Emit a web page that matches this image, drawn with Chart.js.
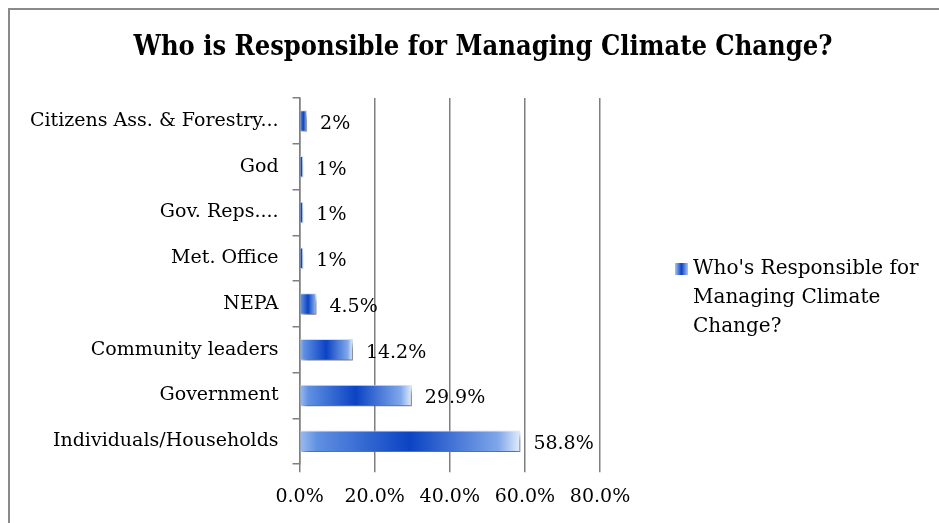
<!DOCTYPE html>
<html>
<head>
<meta charset="utf-8">
<script src="https://cdn.jsdelivr.net/npm/chart.js@4"></script>
<style>
  body { margin: 0; background: #fff; }
  #wrap { position: relative; width: 939px; height: 523px; overflow: hidden; }
  #frame { position: absolute; left: 8px; top: 8px; width: 1000px; height: 600px;
           border-left: 2px solid #8a8a8a; border-top: 2px solid #8a8a8a; }
  canvas { position: absolute; left: 0; top: 0; }
</style>
</head>
<body>
<div id="wrap">
  <div id="frame"></div>
  <canvas id="climateChart" width="939" height="523"></canvas>
</div>
<script>
const categories = ['Citizens Ass. & Forestry...', 'God', 'Gov. Reps....', 'Met. Office', 'NEPA', 'Community leaders', 'Government', 'Individuals/Households'];
const responses = [2, 1, 1, 1, 4.5, 14.2, 29.9, 58.8];
const valueLabels = ['2%', '1%', '1%', '1%', '4.5%', '14.2%', '29.9%', '58.8%'];
const xTicks = [0, 20, 40, 60, 80];
const chartTitle = 'Who is Responsible for Managing Climate Change?';
const seriesName = "Who's Responsible for Managing Climate Change?";
const legendLines = ["Who's Responsible for", 'Managing Climate', 'Change?'];

const serif = "'DejaVu Serif', 'Liberation Serif', serif";
const titleFont = "'DejaVu Serif Condensed', 'DejaVu Serif', serif";
Chart.defaults.font.family = serif;
Chart.defaults.color = '#000';

// bar gradient, light ends and dark blue middle
function barFill(c) {
  const chart = c.chart;
  if (!chart.chartArea || c.type !== 'data') return '#2b5fd3';
  const x0 = chart.scales.x.getPixelForValue(0);
  const x1 = chart.scales.x.getPixelForValue(c.raw);
  const g = chart.ctx.createLinearGradient(x0, 0, x1, 0);
  g.addColorStop(0, '#9dbdf0');
  g.addColorStop(0.08, '#5f90e2');
  g.addColorStop(0.5, '#0b43c3');
  g.addColorStop(0.9, '#7fa7ea');
  g.addColorStop(1, '#e4edfb');
  return g;
}

const extras = {
  id: 'extras',
  beforeDatasetsDraw(chart) {
    const ctx = chart.ctx;
    ctx.save();
    ctx.shadowColor = 'rgba(0,0,0,0.55)';
    ctx.shadowOffsetX = 3;
    ctx.shadowOffsetY = 5;
    ctx.shadowBlur = 6;
  },
  afterDatasetsDraw(chart) {
    const ctx = chart.ctx;
    ctx.restore();
    // value labels
    ctx.save();
    ctx.font = '19px ' + serif;
    ctx.fillStyle = '#000';
    ctx.textBaseline = 'middle';
    ctx.textAlign = 'left';
    chart.getDatasetMeta(0).data.forEach((bar, i) => {
      ctx.fillText(valueLabels[i], bar.x + 13, bar.y + 3);
    });
    ctx.restore();
  },
  afterDraw(chart) {
    const ctx = chart.ctx;
    ctx.save();
    // title
    ctx.font = 'bold 27px ' + titleFont;
    ctx.textAlign = 'center';
    ctx.textBaseline = 'middle';
    ctx.fillStyle = '#000';
    ctx.fillText(chartTitle, 483, 48);
    // legend
    const lg = ctx.createLinearGradient(675, 0, 688, 0);
    lg.addColorStop(0, '#a9c6f3');
    lg.addColorStop(0.5, '#0b43c3');
    lg.addColorStop(1, '#a9c6f3');
    ctx.fillStyle = lg;
    ctx.fillRect(675, 263, 13, 12);
    ctx.font = '20px ' + serif;
    ctx.textAlign = 'left';
    ctx.fillStyle = '#000';
    legendLines.forEach((line, i) => ctx.fillText(line, 693, 269 + i * 29));
    ctx.restore();
  }
};

const ctx = document.getElementById('climateChart').getContext('2d');

new Chart(ctx, {
  type: 'bar',
  data: {
    labels: categories,
    datasets: [{
      label: seriesName,
      data: responses,
      backgroundColor: barFill,
      borderColor: '#d6e3f8',
      borderWidth: 1,
      categoryPercentage: 1,
      barPercentage: 0.47
    }]
  },
  options: {
    indexAxis: 'y',
    responsive: false,
    animation: false,
    layout: {
      padding: { top: 98, right: 339, bottom: 2, left: 16 }
    },
    plugins: {
      legend: { display: false },
      title: { display: false },
      tooltip: { enabled: false }
    },
    scales: {
      x: {
        min: 0,
        max: 80,
        afterBuildTicks: axis => { axis.ticks = xTicks.map(v => ({ value: v })); },
        ticks: {
          font: { size: 19 },
          padding: 13,
          maxRotation: 0,
          callback: v => v.toFixed(1) + '%'
        },
        grid: { color: '#7f7f7f', lineWidth: 1.5, tickLength: 8 },
        border: { display: false }
      },
      y: {
        ticks: { font: { size: 19 }, padding: 14 },
        grid: { drawOnChartArea: false, color: '#7f7f7f', lineWidth: 1.5, tickLength: 7 },
        border: { color: '#7f7f7f', width: 1.5 }
      }
    }
  },
  plugins: [extras]
});
</script>
</body>
</html>
